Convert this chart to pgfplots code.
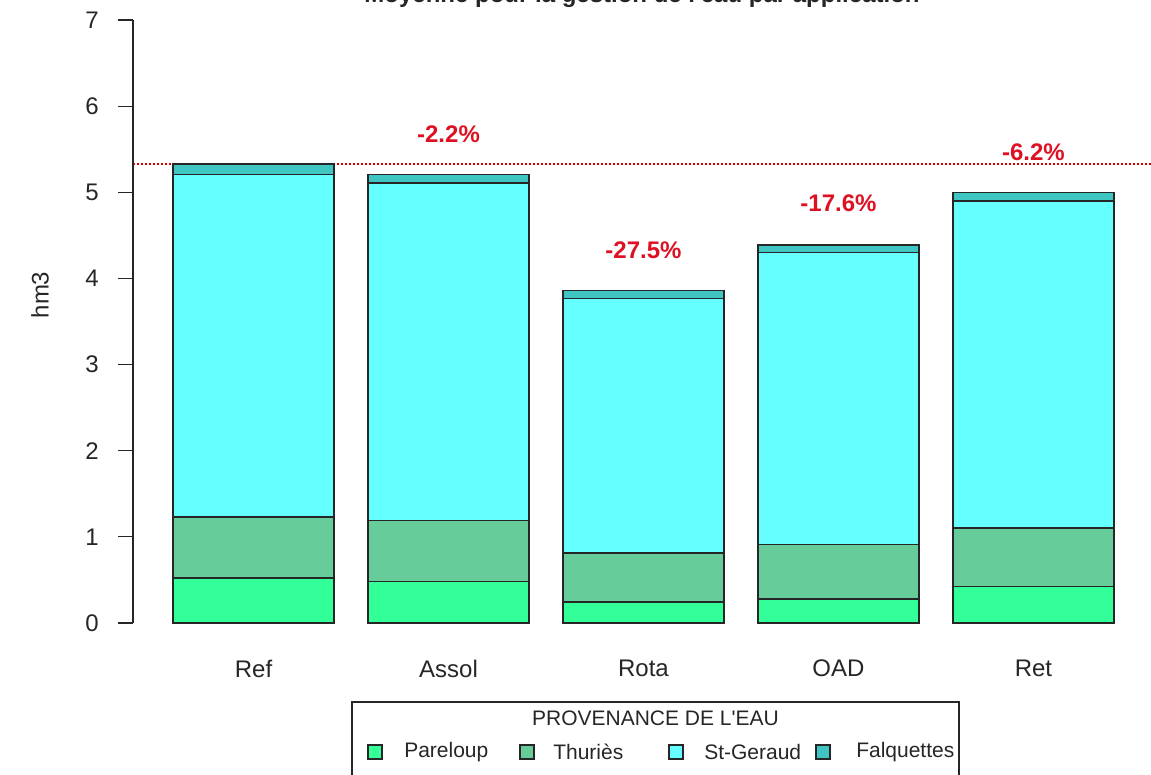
\documentclass[border=0pt]{standalone}
\usepackage{pgfplots}
\pgfplotsset{compat=1.18}
\usepackage{fontspec}
\setmainfont{Liberation Sans}
\definecolor{cPar}{HTML}{33FF99}
\definecolor{cThu}{HTML}{66CC99}
\definecolor{cStG}{HTML}{66FFFF}
\definecolor{cFal}{HTML}{3FC6C2}
\definecolor{pctred}{HTML}{DD1122}
\definecolor{txt}{HTML}{262626}
\begin{document}
\begin{tikzpicture}[x=0.75pt,y=0.75pt]
\path[use as bounding box] (0,0) rectangle (1151,774);
\begin{axis}[
  at={(99.75pt,95.25pt)}, anchor=south west, scale only axis,
  width=764.25pt, height=488.25pt,
  xmin=-0.618, xmax=4.608, ymin=-0.28, ymax=7.28,
  axis line style={draw=none},
  ybar stacked, bar width=0.826,
  xtick={0,1,2,3,4}, xticklabels={Ref,Assol,Rota,OAD,Ret},
  ytick={0,1,2,3,4,5,6,7},
  ytick pos=left, xtick pos=bottom,
  tick align=outside,
  major tick length=11.25pt,
  x tick style={draw=none},
  y tick style={line width=1pt, color=txt},
  ticklabel style={font=\fontsize{18}{21}\selectfont, text=txt},
  xticklabel style={yshift=5.25pt},
  yticklabel style={xshift=-11pt},
  /pgf/number format/assume math mode=true,
  clip=false,
]
\addplot[fill=cPar, draw=txt, line width=1.1pt] coordinates {(0,0.52) (1,0.48) (2,0.24) (3,0.28) (4,0.42)};
\addplot[fill=cThu, draw=txt, line width=1.1pt] coordinates {(0,0.71) (1,0.71) (2,0.57) (3,0.63) (4,0.68)};
\addplot[fill=cStG, draw=txt, line width=1.1pt] coordinates {(0,3.98) (1,3.92) (2,2.96) (3,3.39) (4,3.80)};
\addplot[fill=cFal, draw=txt, line width=1.1pt] coordinates {(0,0.12) (1,0.10) (2,0.09) (3,0.09) (4,0.10)};
\draw[txt, line width=1pt] (axis cs:-0.618,0) -- (axis cs:-0.618,7);
\draw[red!85!black, line width=0.9pt, dash pattern=on 1.5pt off 1.5pt] (axis cs:-0.618,5.33) -- (axis cs:4.608,5.33);
\node[font=\bfseries\fontsize{18}{21}\selectfont, text=pctred] at (axis cs:1,5.68) {-2.2\%};
\node[font=\bfseries\fontsize{18}{21}\selectfont, text=pctred] at (axis cs:2,4.33) {-27.5\%};
\node[font=\bfseries\fontsize{18}{21}\selectfont, text=pctred] at (axis cs:3,4.87) {-17.6\%};
\node[font=\bfseries\fontsize{18}{21}\selectfont, text=pctred] at (axis cs:4,5.47) {-6.2\%};
\end{axis}
\node[font=\bfseries\fontsize{18}{22}\selectfont, text=txt, anchor=base] at (642,771) {Moyenne pour la gestion de l\textquotesingle eau par application};
\node[rotate=90, font=\fontsize{18}{21}\selectfont, text=txt] at (40,479) {hm3};
\draw[txt, line width=1pt] (352,-20) rectangle (959,72);
\node[font=\fontsize{15.75}{18}\selectfont, text=txt] at (655.5,56) {PROVENANCE DE L\textquotesingle EAU};
\filldraw[fill=cPar, draw=txt, line width=0.9pt] (368,15) rectangle (382,29);
\filldraw[fill=cThu, draw=txt, line width=0.9pt] (520,15) rectangle (534,29);
\filldraw[fill=cStG, draw=txt, line width=0.9pt] (669,15) rectangle (683,29);
\filldraw[fill=cFal, draw=txt, line width=0.9pt] (816,15) rectangle (830,29);
\node[font=\fontsize{15.75}{18}\selectfont, text=txt, anchor=west, inner sep=0pt] at (404,22) {Pareloup};
\node[font=\fontsize{15.75}{18}\selectfont, text=txt, anchor=west, inner sep=0pt] at (553,22) {Thuriès};
\node[font=\fontsize{15.75}{18}\selectfont, text=txt, anchor=west, inner sep=0pt] at (704,22) {St-Geraud};
\node[font=\fontsize{15.75}{18}\selectfont, text=txt, anchor=west, inner sep=0pt] at (856,22) {Falquettes};
\end{tikzpicture}
\end{document}
